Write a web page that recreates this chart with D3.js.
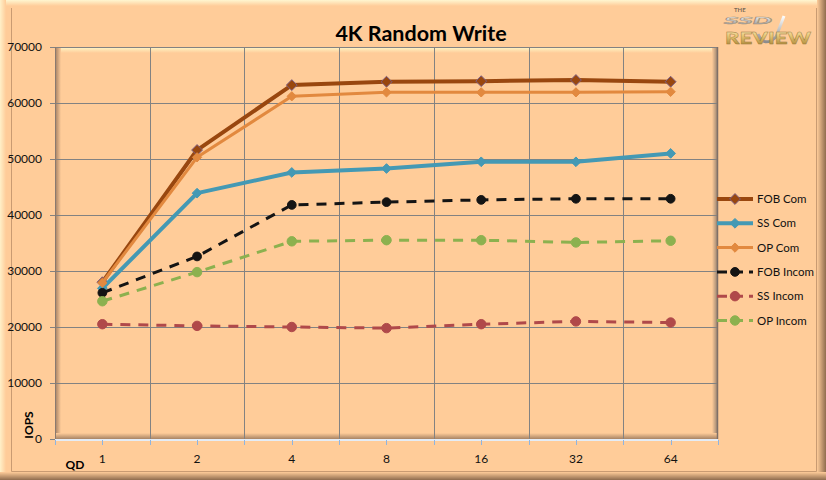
<!DOCTYPE html>
<html>
<head>
<meta charset="utf-8">
<script src="https://cdn.jsdelivr.net/npm/d3@7"></script>
<style>
  body { margin: 0; background: #ffcc99; }
  svg { display: block; }
</style>
</head>
<body>
<svg></svg>
<script>
const width = 826
const height = 480

// data
const queueDepths = ['1', '2', '4', '8', '16', '32', '64']
const fobCom = [28000, 51600, 63200, 63800, 63900, 64100, 63800]
const ssCom = [26900, 43900, 47600, 48300, 49500, 49500, 51000]
const opCom = [27900, 50300, 61200, 61900, 61900, 61900, 62000]
const fobIncom = [26100, 32600, 41800, 42300, 42700, 42900, 42900]
const ssIncom = [20500, 20200, 20000, 19800, 20500, 21000, 20800]
const opIncom = [24600, 29800, 35300, 35500, 35500, 35100, 35400]
const yTicks = [0, 10000, 20000, 30000, 40000, 50000, 60000, 70000]

const series = [
  { name: 'FOB Com', values: fobCom, color: '#99470f', width: 4, dash: null, marker: 'diamond', msize: 75, stroke: '#7d5f86' },
  { name: 'SS Com', values: ssCom, color: '#4499b4', width: 4, dash: null, marker: 'diamond', msize: 60, stroke: '#4499b4' },
  { name: 'OP Com', values: opCom, color: '#e2893f', width: 3, dash: null, marker: 'diamond', msize: 55, stroke: '#e2893f' },
  { name: 'FOB Incom', values: fobIncom, color: '#141414', width: 3, dash: '10,8', marker: 'circle', msize: 60, stroke: '#141414' },
  { name: 'SS Incom', values: ssIncom, color: '#b0494a', width: 3, dash: '10,8', marker: 'circle', msize: 70, stroke: '#b0494a' },
  { name: 'OP Incom', values: opIncom, color: '#8cb14f', width: 3, dash: '10,8', marker: 'circle', msize: 70, stroke: '#8cb14f' },
]

const plot = { left: 55, right: 718, top: 47, bottom: 439 }
const font = 'Lato, "Open Sans", sans-serif'
const gridColor = '#828282'

const svg = d3.select('svg').attr('width', width).attr('height', height)
const defs = svg.append('defs')

const gradient = (id, x2, y2, stops) => {
  const g = defs.append('linearGradient').attr('id', id)
    .attr('x1', 0).attr('y1', 0).attr('x2', x2).attr('y2', y2)
  stops.forEach(([o, c]) => g.append('stop').attr('offset', o).attr('stop-color', c))
}
gradient('g-top', 0, 1, [['0%', '#fff6d0'], ['100%', '#ffcc99']])
gradient('g-left', 1, 0, [['0%', '#fff0c8'], ['100%', '#ffcc99']])
gradient('g-right', 1, 0, [['0%', '#ffcc99'], ['100%', '#8f6c4e']])
gradient('g-bottom', 0, 1, [['0%', '#ffcc99'], ['100%', '#8f6c4e']])
gradient('p-top', 0, 1, [['0%', '#fff8c8'], ['100%', '#ffcc99']])
gradient('p-left', 1, 0, [['0%', '#a07d62'], ['100%', '#ffcc99']])
gradient('p-right', 1, 0, [['0%', '#ffcc99'], ['100%', '#8e7b6c']])
gradient('p-bottom', 0, 1, [['0%', '#ffcc99'], ['100%', '#a88465']])
gradient('logo-gold', 0, 1, [['0%', '#fff6d8'], ['45%', '#e6c676'], ['100%', '#a07c2c']])
gradient('logo-silver', 0, 1, [['0%', '#ffffff'], ['100%', '#8c8c8c']])

// chart area frame
svg.append('rect').attr('width', width).attr('height', height).attr('fill', '#ffcc99')
svg.append('rect').attr('x', 0).attr('y', 0).attr('width', width).attr('height', 6).attr('fill', 'url(#g-top)')
svg.append('rect').attr('x', 0).attr('y', 0).attr('width', 6).attr('height', height).attr('fill', 'url(#g-left)')
svg.append('rect').attr('x', 817).attr('y', 0).attr('width', 9).attr('height', height).attr('fill', 'url(#g-right)')
svg.append('rect').attr('x', 0).attr('y', 472).attr('width', width).attr('height', 8).attr('fill', 'url(#g-bottom)')
svg.append('path')
  .attr('d', 'M11.5,8V471.5H816.5V8')
  .attr('fill', 'none').attr('stroke', '#c99b72').attr('stroke-width', 1)

const x = d3.scaleBand().domain(queueDepths).range([plot.left, plot.right])
const y = d3.scaleLinear().domain([0, 70000]).range([plot.bottom, plot.top])

// plot area bevel
svg.append('rect').attr('x', plot.left).attr('y', plot.top).attr('width', plot.right - plot.left).attr('height', 6).attr('fill', 'url(#p-top)')
svg.append('rect').attr('x', plot.left).attr('y', plot.top).attr('width', 6).attr('height', plot.bottom - plot.top).attr('fill', 'url(#p-left)')
svg.append('rect').attr('x', plot.right - 6).attr('y', plot.top).attr('width', 6).attr('height', plot.bottom - plot.top).attr('fill', 'url(#p-right)')
svg.append('rect').attr('x', plot.left).attr('y', plot.bottom - 6).attr('width', plot.right - plot.left).attr('height', 6).attr('fill', 'url(#p-bottom)')

// gridlines
const grid = svg.append('g')
grid.selectAll('line.hgrid')
  .data(yTicks.filter((d) => d > 0))
  .join('line')
  .attr('class', 'hgrid')
  .attr('x1', plot.left - 5).attr('x2', plot.right)
  .attr('y1', (d) => Math.round(y(d)) + 0.5).attr('y2', (d) => Math.round(y(d)) + 0.5)
  .attr('stroke', gridColor)
grid.selectAll('line.vgrid')
  .data(queueDepths.slice(1))
  .join('line')
  .attr('class', 'vgrid')
  .attr('x1', (d) => Math.round(x(d)) + 0.5).attr('x2', (d) => Math.round(x(d)) + 0.5)
  .attr('y1', plot.top).attr('y2', plot.bottom)
  .attr('stroke', gridColor)
svg.append('line')
  .attr('x1', plot.left + 0.5).attr('x2', plot.left + 0.5).attr('y1', plot.top).attr('y2', plot.bottom)
  .attr('stroke', '#8a7a70')
svg.append('line')
  .attr('x1', plot.right - 0.5).attr('x2', plot.right - 0.5).attr('y1', plot.top).attr('y2', plot.bottom)
  .attr('stroke', '#7f7068').attr('stroke-width', 1.5)

// y axis
const yAxis = svg.append('g')
  .attr('transform', `translate(${plot.left},0)`)
  .call(d3.axisLeft(y).tickValues(yTicks).tickSize(5).tickPadding(8).tickFormat(d3.format('d')))
yAxis.select('.domain').remove()
yAxis.selectAll('.tick line').attr('stroke', gridColor)
yAxis.selectAll('.tick text').attr('fill', '#111').style('font', `12px ${font}`)

// x axis
svg.append('line')
  .attr('x1', plot.left).attr('x2', plot.right).attr('y1', plot.bottom + 1).attr('y2', plot.bottom + 1)
  .attr('stroke', '#e4ecf6').attr('stroke-width', 2)
const halfTicks = queueDepths.flatMap((d) => [x(d), x(d) + x.bandwidth() / 2]).concat([plot.right])
svg.append('g').selectAll('line')
  .data(halfTicks)
  .join('line')
  .attr('x1', (d) => Math.round(d) + 0.5).attr('x2', (d) => Math.round(d) + 0.5)
  .attr('y1', plot.bottom + 1).attr('y2', plot.bottom + 6)
  .attr('stroke', '#8fb4e0')
svg.append('g').selectAll('text')
  .data(queueDepths)
  .join('text')
  .attr('x', (d) => x(d) + x.bandwidth() / 2)
  .attr('y', 463)
  .attr('text-anchor', 'middle')
  .attr('fill', '#111')
  .style('font', `12px ${font}`)
  .text((d) => d)

// axis titles
svg.append('text')
  .attr('transform', 'translate(33,425) rotate(-90)')
  .attr('text-anchor', 'middle')
  .style('font', `bold 12px ${font}`)
  .text('IOPS')
svg.append('text')
  .attr('x', 75).attr('y', 469)
  .attr('text-anchor', 'middle')
  .style('font', `bold 12px ${font}`)
  .text('QD')

// title
svg.append('text')
  .attr('x', 421).attr('y', 41)
  .attr('text-anchor', 'middle')
  .style('font', `bold 21.5px ${font}`)
  .text('4K Random Write')

// series
const line = d3.line()
  .x((d, i) => x(queueDepths[i]) + x.bandwidth() / 2)
  .y((d) => y(d))
const symbolFor = (s) => d3.symbol()
  .type(s.marker === 'diamond' ? d3.symbolDiamond2 : d3.symbolCircle)
  .size(s.msize)

const seriesGroup = svg.append('g')
series.forEach((s) => {
  seriesGroup.append('path')
    .datum(s.values)
    .attr('d', line)
    .attr('fill', 'none')
    .attr('stroke', s.color)
    .attr('stroke-width', s.width)
    .attr('stroke-dasharray', s.dash)
    .attr('stroke-linejoin', 'round')
  seriesGroup.selectAll(null)
    .data(s.values)
    .join('path')
    .attr('transform', (d, i) => `translate(${x(queueDepths[i]) + x.bandwidth() / 2},${y(d)})`)
    .attr('d', symbolFor(s))
    .attr('fill', s.color)
    .attr('stroke', s.stroke)
    .attr('stroke-width', 1)
})

// legend
const legend = svg.append('g').attr('transform', 'translate(717,199)')
const item = legend.selectAll('g')
  .data(series)
  .join('g')
  .attr('transform', (d, i) => `translate(0,${i * 24.3})`)
item.append('line')
  .attr('x1', 0).attr('x2', 36)
  .attr('stroke', (d) => d.color)
  .attr('stroke-width', (d) => d.width)
  .attr('stroke-dasharray', (d) => (d.dash ? '10,6' : null))
item.append('path')
  .attr('transform', 'translate(18,0)')
  .attr('d', (d) => symbolFor(d)())
  .attr('fill', (d) => d.color)
  .attr('stroke', (d) => d.stroke)
item.append('text')
  .attr('x', 40).attr('y', 4)
  .attr('fill', '#111')
  .style('font', `11.5px ${font}`)
  .text((d) => d.name)

// logo
const logo = svg.append('g').attr('transform', 'translate(722,0)')
logo.append('path')
  .attr('d', 'M36,34 Q42,48 54,37 L62,16')
  .attr('fill', 'none').attr('stroke', 'url(#logo-silver)').attr('stroke-width', 3)
logo.append('text').attr('x', 12).attr('y', 12)
  .style('font', `bold 6px ${font}`).attr('fill', '#7a6a58').text('THE')
logo.append('text').attr('x', 2).attr('y', 24)
  .style('font', `italic 900 9px ${font}`)
  .attr('textLength', 48).attr('lengthAdjust', 'spacingAndGlyphs')
  .attr('fill', 'url(#logo-silver)').attr('stroke', '#a39078').attr('stroke-width', 0.4).text('SSD')
logo.append('text').attr('x', 3).attr('y', 43.5)
  .style('font', `900 17.5px ${font}`)
  .attr('textLength', 86).attr('lengthAdjust', 'spacingAndGlyphs')
  .attr('fill', 'url(#logo-gold)').attr('stroke', '#9a7a3a').attr('stroke-width', 0.4).text('REVIEW')
</script>
</body>
</html>
